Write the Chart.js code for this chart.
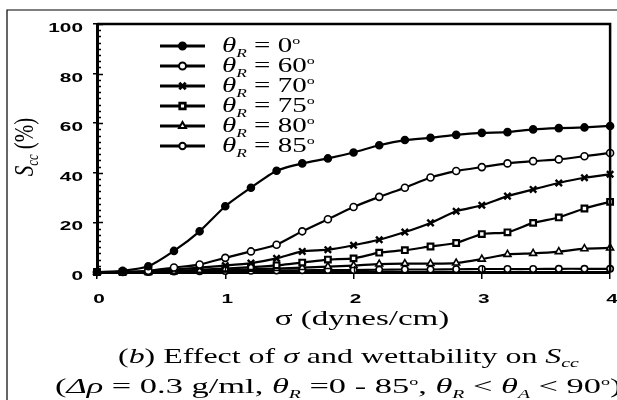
<!DOCTYPE html>
<html>
<head>
<meta charset="utf-8">
<script src="https://cdn.jsdelivr.net/npm/chart.js@4/dist/chart.umd.min.js"></script>
<style>
  html, body { margin: 0; padding: 0; background: #fff; }
  #wrap { width: 617px; height: 400px; }
</style>
</head>
<body>
<div id="wrap"><canvas id="chart"></canvas></div>
<script>
// surface tension sigma (dynes/cm)
const sigma = [0, 0.2, 0.4, 0.6, 0.8, 1.0, 1.2, 1.4, 1.6, 1.8, 2.0, 2.2, 2.4, 2.6, 2.8, 3.0, 3.2, 3.4, 3.6, 3.8, 4.0];

// S_cc (%) for each receding contact angle
const scc0  = [0, 0.5, 2.3, 8.5, 16.4, 26.5, 34, 40.8, 43.8, 45.8, 48.2, 51.1, 53.2, 54.1, 55.3, 56.1, 56.4, 57.5, 58, 58.3, 58.9];
const scc60 = [0, 0, 0.5, 1.8, 3, 5.7, 8.3, 11, 16.4, 21.3, 26.2, 30.3, 34, 38.1, 40.7, 42.3, 43.8, 44.7, 45.4, 46.7, 48];
const scc70 = [0, 0, 0.3, 1, 1.8, 2.6, 3.6, 5.5, 8.3, 9, 10.8, 13, 16.1, 19.8, 24.5, 26.9, 30.6, 33.3, 35.9, 38, 39.4];
const scc75 = [0, 0, 0.2, 0.5, 0.9, 1.4, 2, 2.7, 3.8, 5, 5.5, 7.8, 8.8, 10.3, 11.7, 15.3, 16, 19.8, 22, 25.6, 28.3];
const scc80 = [0, 0, 0, 0.3, 0.5, 0.8, 1.1, 1.4, 1.8, 2.2, 2.6, 3.2, 3.4, 3.4, 3.6, 5.2, 7.1, 7.5, 8.2, 9.4, 9.7];
const scc85 = [0, 0, 0, 0.2, 0.3, 0.4, 0.5, 0.6, 0.7, 0.8, 0.8, 0.9, 1, 1, 1.1, 1.2, 1.2, 1.2, 1.3, 1.3, 1.3];

const thetaR = [0, 60, 70, 75, 80, 85];
const xTicks = [0, 1, 2, 3, 4];
const yTicks = [0, 20, 40, 60, 80, 100];

const series = [scc0, scc60, scc70, scc75, scc80, scc85];
const marks = [
  { style: 'circle',   fill: '#000', r: 3.5, bw: 1.6 },
  { style: 'circle',   fill: '#fff', r: 3.5, bw: 1.6 },
  { style: 'crossRot', fill: '#000', r: 4.5, bw: 2.4 },
  { style: 'rect',     fill: '#fff', r: 4,   bw: 2.2 },
  { style: 'triangle', fill: '#fff', r: 4,   bw: 1.6 },
  { style: 'circle',   fill: '#fff', r: 3.2, bw: 1.6 }
];

const SERIF = '"Liberation Serif", "DejaVu Serif", serif';
const SANS = '"Liberation Sans", Arial, sans-serif';

// draw a run of text pieces [text, font, dy], stretched horizontally by sx
function rich(ctx, segs, x, y, sx, align) {
  ctx.save();
  let w = 0;
  segs.forEach(s => { ctx.font = s[1]; w += ctx.measureText(s[0]).width; });
  ctx.translate(x, y);
  ctx.scale(sx, 1);
  let cx = align === 'center' ? -w / 2 : align === 'right' ? -w : 0;
  ctx.textBaseline = 'alphabetic';
  ctx.textAlign = 'left';
  ctx.fillStyle = '#000';
  segs.forEach(s => {
    ctx.font = s[1];
    ctx.fillText(s[0], cx, s[2] || 0);
    cx += ctx.measureText(s[0]).width;
  });
  ctx.restore();
}

const it = px => 'italic ' + px + 'px ' + SERIF;
const rm = px => px + 'px ' + SERIF;

const decor = {
  id: 'decor',
  afterDraw(chart) {
    const ctx = chart.ctx;
    const a = chart.chartArea;
    const xs = chart.scales.x, ys = chart.scales.y;
    ctx.save();
    ctx.strokeStyle = '#000';

    // outer frame of the figure
    ctx.lineWidth = 1.2;
    ctx.beginPath();
    ctx.moveTo(7, 400); ctx.lineTo(7, 10); ctx.lineTo(617, 10);
    ctx.stroke();

    // top and right border of the plot
    ctx.lineWidth = 2.5;
    ctx.beginPath();
    ctx.moveTo(a.left, a.top); ctx.lineTo(a.right, a.top); ctx.lineTo(a.right, a.bottom);
    ctx.stroke();

    // inward ticks
    ctx.lineWidth = 1.3;
    ctx.beginPath();
    for (let v = 0; v <= 100; v += 2.5) {
      const py = Math.round(ys.getPixelForValue(v)) + 0.5;
      const len = v % 20 === 0 ? 6 : 4;
      ctx.moveTo(a.left, py); ctx.lineTo(a.left + len, py);
    }
    xTicks.forEach(v => {
      const px = Math.round(xs.getPixelForValue(v)) + 0.5;
      ctx.moveTo(px, a.bottom); ctx.lineTo(px, a.bottom - 6);
    });
    ctx.stroke();

    // tick labels
    yTicks.forEach(v => {
      rich(ctx, [[String(v), 'bold 13px ' + SANS]], 83, ys.getPixelForValue(v) + 8, 1.6, 'right');
    });
    xTicks.forEach(v => {
      rich(ctx, [[String(v), 'bold 13px ' + SANS]], xs.getPixelForValue(v) + 2, 303, 1.6, 'center');
    });

    // axis titles
    rich(ctx, [['σ', rm(20)], [' (dynes/cm)', rm(20)]], 362, 325, 1.65, 'center');
    ctx.save();
    ctx.translate(33, 147);
    ctx.rotate(-Math.PI / 2);
    ctx.scale(1, 1.35);
    rich(ctx, [['S', it(20)], ['cc', it(12), 4], [' (%)', rm(20)]], 0, 0, 1.05, 'center');
    ctx.restore();

    // legend
    thetaR.forEach((t, i) => {
      const ry = 46 + i * 20;
      ctx.lineWidth = 3;
      ctx.beginPath();
      ctx.moveTo(160, ry); ctx.lineTo(205, ry);
      ctx.stroke();
      const m = marks[i];
      ctx.fillStyle = m.fill;
      ctx.strokeStyle = '#000';
      ctx.lineWidth = m.bw + 0.4;
      Chart.helpers.drawPoint(ctx, { pointStyle: m.style, radius: m.r, rotation: 0, borderWidth: m.bw + 0.4 }, 182.5, ry);
      rich(ctx, [['θ', it(20)], ['R', it(12), 5], [' = ' + t, rm(20)], ['o', rm(11), -8]], 222, ry + 6, 1.45, 'left');
    });

    // caption
    rich(ctx, [['(', rm(21)], ['b', it(21)], [') Effect of ', rm(21)], ['σ', it(21)],
               [' and wettability on ', rm(21)], ['S', it(21)], ['cc', it(13), 4]], 118, 363, 1.52, 'left');
    rich(ctx, [['(', rm(21)], ['Δρ', it(21)], [' = 0.3 g/ml, ', rm(21)], ['θ', it(21)], ['R', it(12), 5],
               [' =0 - 85', rm(21)], ['o', rm(11), -8], [', ', rm(21)], ['θ', it(21)], ['R', it(12), 5],
               [' < ', rm(21)], ['θ', it(21)], ['A', it(12), 5], [' < 90', rm(21)], ['o', rm(11), -8], [')', rm(21)]],
         55, 393, 1.64, 'left');
    ctx.restore();
  }
};

new Chart(document.getElementById('chart'), {
  type: 'line',
  data: {
    datasets: series.map((s, i) => ({
      label: 'θR = ' + thetaR[i] + '°',
      data: sigma.map((x, j) => ({ x: x, y: s[j] })),
      borderColor: '#000',
      borderWidth: 2.2,
      pointStyle: marks[i].style,
      pointRadius: marks[i].r,
      pointBackgroundColor: marks[i].fill,
      pointBorderColor: '#000',
      pointBorderWidth: marks[i].bw,
      tension: 0.2,
      fill: false,
      clip: false
    }))
  },
  plugins: [decor],
  options: {
    responsive: true,
    maintainAspectRatio: false,
    animation: false,
    layout: { padding: { left: 0, right: 6, top: 24, bottom: 0 } },
    plugins: {
      legend: { display: false },
      tooltip: { enabled: false }
    },
    scales: {
      x: {
        type: 'linear',
        min: 0,
        max: 4,
        ticks: { stepSize: 1, display: false },
        grid: { drawOnChartArea: false, color: '#000', lineWidth: 1.5, tickLength: 7 },
        border: { color: '#000', width: 3 },
        afterFit: s => { s.height = 128; }
      },
      y: {
        min: 0,
        max: 100,
        ticks: { stepSize: 20, display: false },
        grid: { drawOnChartArea: false, color: '#000', lineWidth: 1.5, tickLength: 4 },
        border: { color: '#000', width: 3 },
        afterFit: s => { s.width = 97; }
      }
    }
  }
});
</script>
</body>
</html>
